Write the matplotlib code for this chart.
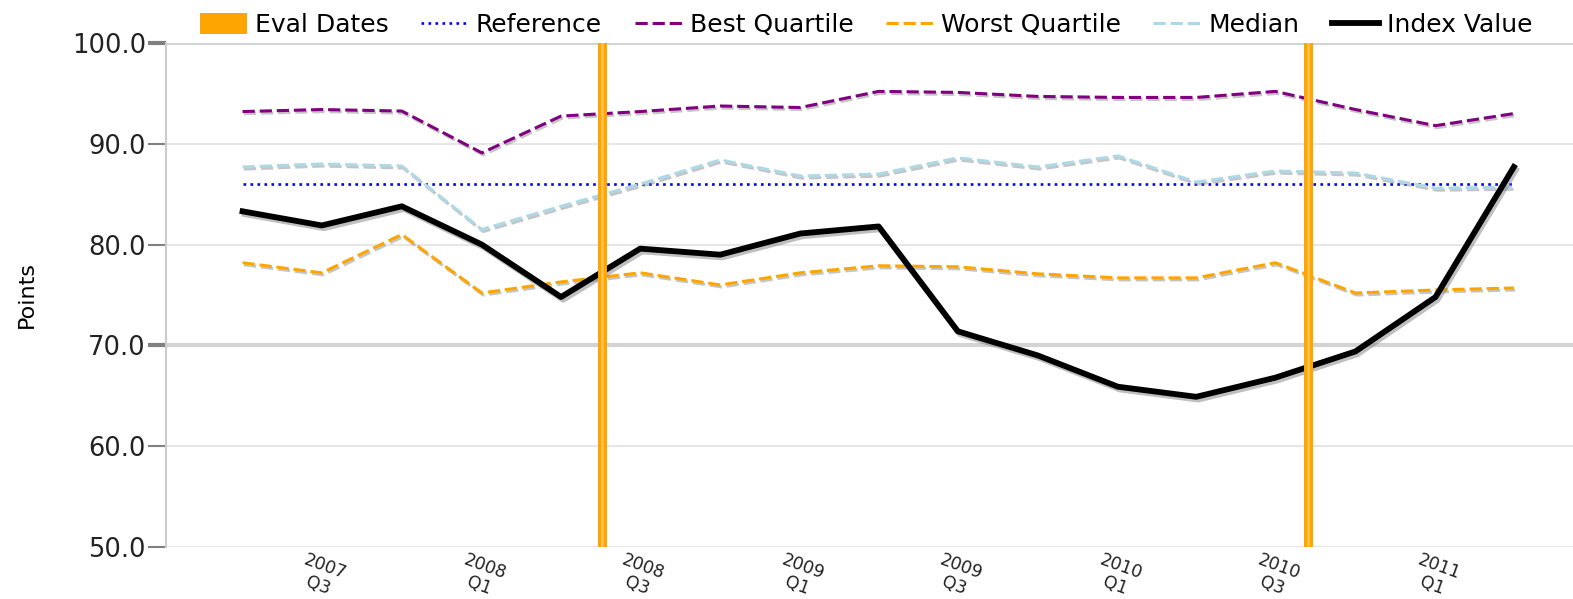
import matplotlib
matplotlib.use("Agg")
import matplotlib.pyplot as plt
import matplotlib.dates as mdates
import matplotlib.patheffects as pe
from matplotlib.patches import Patch
from matplotlib.lines import Line2D
from matplotlib.transforms import ScaledTranslation
import pandas as pd

# quarterly data 2007 Q2 .. 2011 Q2
quarters = pd.date_range("2007-04-01", periods=17, freq="QS")
index_value = [83.3, 81.9, 83.8, 80.0, 74.8, 79.6, 79.0, 81.1, 81.8, 71.4,
               69.0, 65.9, 64.9, 66.8, 69.4, 74.8, 87.7]
best_quartile = [93.2, 93.4, 93.25, 89.1, 92.75, 93.2, 93.75, 93.6, 95.2, 95.1,
                 94.7, 94.6, 94.6, 95.2, 93.4, 91.8, 93.0]
worst_quartile = [78.2, 77.2, 81.0, 75.2, 76.3, 77.2, 76.0, 77.2, 77.9, 77.8,
                  77.1, 76.7, 76.7, 78.2, 75.2, 75.5, 75.7]
median = [87.7, 88.0, 87.8, 81.5, 83.8, 86.0, 88.4, 86.8, 87.0, 88.6,
          87.7, 88.8, 86.2, 87.3, 87.1, 85.6, 85.7]
reference = [86.0] * 17
eval_dates = pd.to_datetime(["2008-05-18", "2010-08-08"])
tick_dates = quarters[1::2]
tick_labels = ["2007\nQ3", "2008\nQ1", "2008\nQ3", "2009\nQ1",
               "2009\nQ3", "2010\nQ1", "2010\nQ3", "2011\nQ1"]
y_ticks = [50, 60, 70, 80, 90, 100]

plt.rcParams['font.family'] = ['DejaVu Sans']
fig = plt.figure(figsize=(15.73, 5.99), dpi=100)
ax = fig.add_axes([166 / 1573, 1 - 547 / 599, 1 - 166 / 1573, 504 / 599])

shadow = [pe.SimpleLineShadow(offset=(1, -1.5), shadow_color='gray', alpha=0.45), pe.Normal()]

ax.plot(quarters, reference, color='#0000ff', linestyle=':', lw=1.9, zorder=3)
ax.plot(quarters, best_quartile, color='#800080', lw=2.2, dashes=(4, 1.6), zorder=3, path_effects=shadow)
ax.plot(quarters, worst_quartile, color='#ffa500', lw=2.2, dashes=(4, 1.6), zorder=3, path_effects=shadow)
ax.plot(quarters, median, color='#add8e6', lw=2.2, dashes=(4, 1.6), zorder=3, path_effects=shadow)
ax.plot(quarters, index_value, color='black', lw=4.2, zorder=4,
        path_effects=[pe.SimpleLineShadow(offset=(1.5, -2), shadow_color='gray', alpha=0.5), pe.Normal()])
for d in eval_dates:
    ax.axvline(d, color='#ffa500', lw=6.5, zorder=6)
    ax.axvline(d, color='#ffc04d', lw=2, zorder=6)

ax.set_ylim(50, 100)
ax.set_xlim(quarters[0] - pd.Timedelta(days=88), quarters[-1] + pd.Timedelta(days=68))
ax.set_yticks(y_ticks)
ax.set_yticklabels(["%.1f" % v for v in y_ticks], fontsize=18.5, color='#222222')
ax.set_xticks(tick_dates)
ax.set_xticklabels(tick_labels, fontsize=12.5, rotation=-20, ha='center',
                   linespacing=1.1, color='#222222')
offset = ScaledTranslation(10 / 100, 0, fig.dpi_scale_trans)
for lab in ax.get_xticklabels():
    lab.set_transform(lab.get_transform() + offset)
ax.tick_params(axis='x', length=0, pad=3)
ax.tick_params(axis='y', length=13, width=1.5, color='#808080', pad=1.5)

ax.grid(axis='y', color='#e6e6e6', lw=1.5)
ax.set_axisbelow(True)
for i, v in enumerate(y_ticks):
    if v in (70, 100):
        ax.get_ygridlines()[i].set_color('#d3d3d3')
        ax.get_ygridlines()[i].set_linewidth(3)
        ax.yaxis.get_major_ticks()[i].tick1line.set_color('black')
        ax.yaxis.get_major_ticks()[i].tick1line.set_markeredgewidth(3)

for s in ['top', 'right', 'bottom']:
    ax.spines[s].set_visible(False)
ax.spines['left'].set_color('#cccccc')
ax.spines['left'].set_linewidth(1.5)

ax.set_ylabel("Points", fontsize=16, labelpad=18)
ax.yaxis.set_label_coords(-0.092, 0.5)

handles = [Patch(facecolor='#ffa500', edgecolor='none'),
           Line2D([], [], color='#0000ff', linestyle=':', lw=1.9),
           Line2D([], [], color='#800080', lw=2.2, dashes=(4, 1.6)),
           Line2D([], [], color='#ffa500', lw=2.2, dashes=(4, 1.6)),
           Line2D([], [], color='#add8e6', lw=2.2, dashes=(4, 1.6)),
           Line2D([], [], color='black', lw=4.2)]
labels = ["Eval Dates", "Reference", "Best Quartile", "Worst Quartile", "Median", "Index Value"]
fig.legend(handles, labels, loc='center', bbox_to_anchor=(866 / 1573, 1 - 25 / 599), ncol=6,
           frameon=False, fontsize=18, handlelength=1.9, handleheight=0.9,
           handletextpad=0.3, columnspacing=1.3, borderpad=0, borderaxespad=0)

fig.savefig("out.png", dpi=100)
